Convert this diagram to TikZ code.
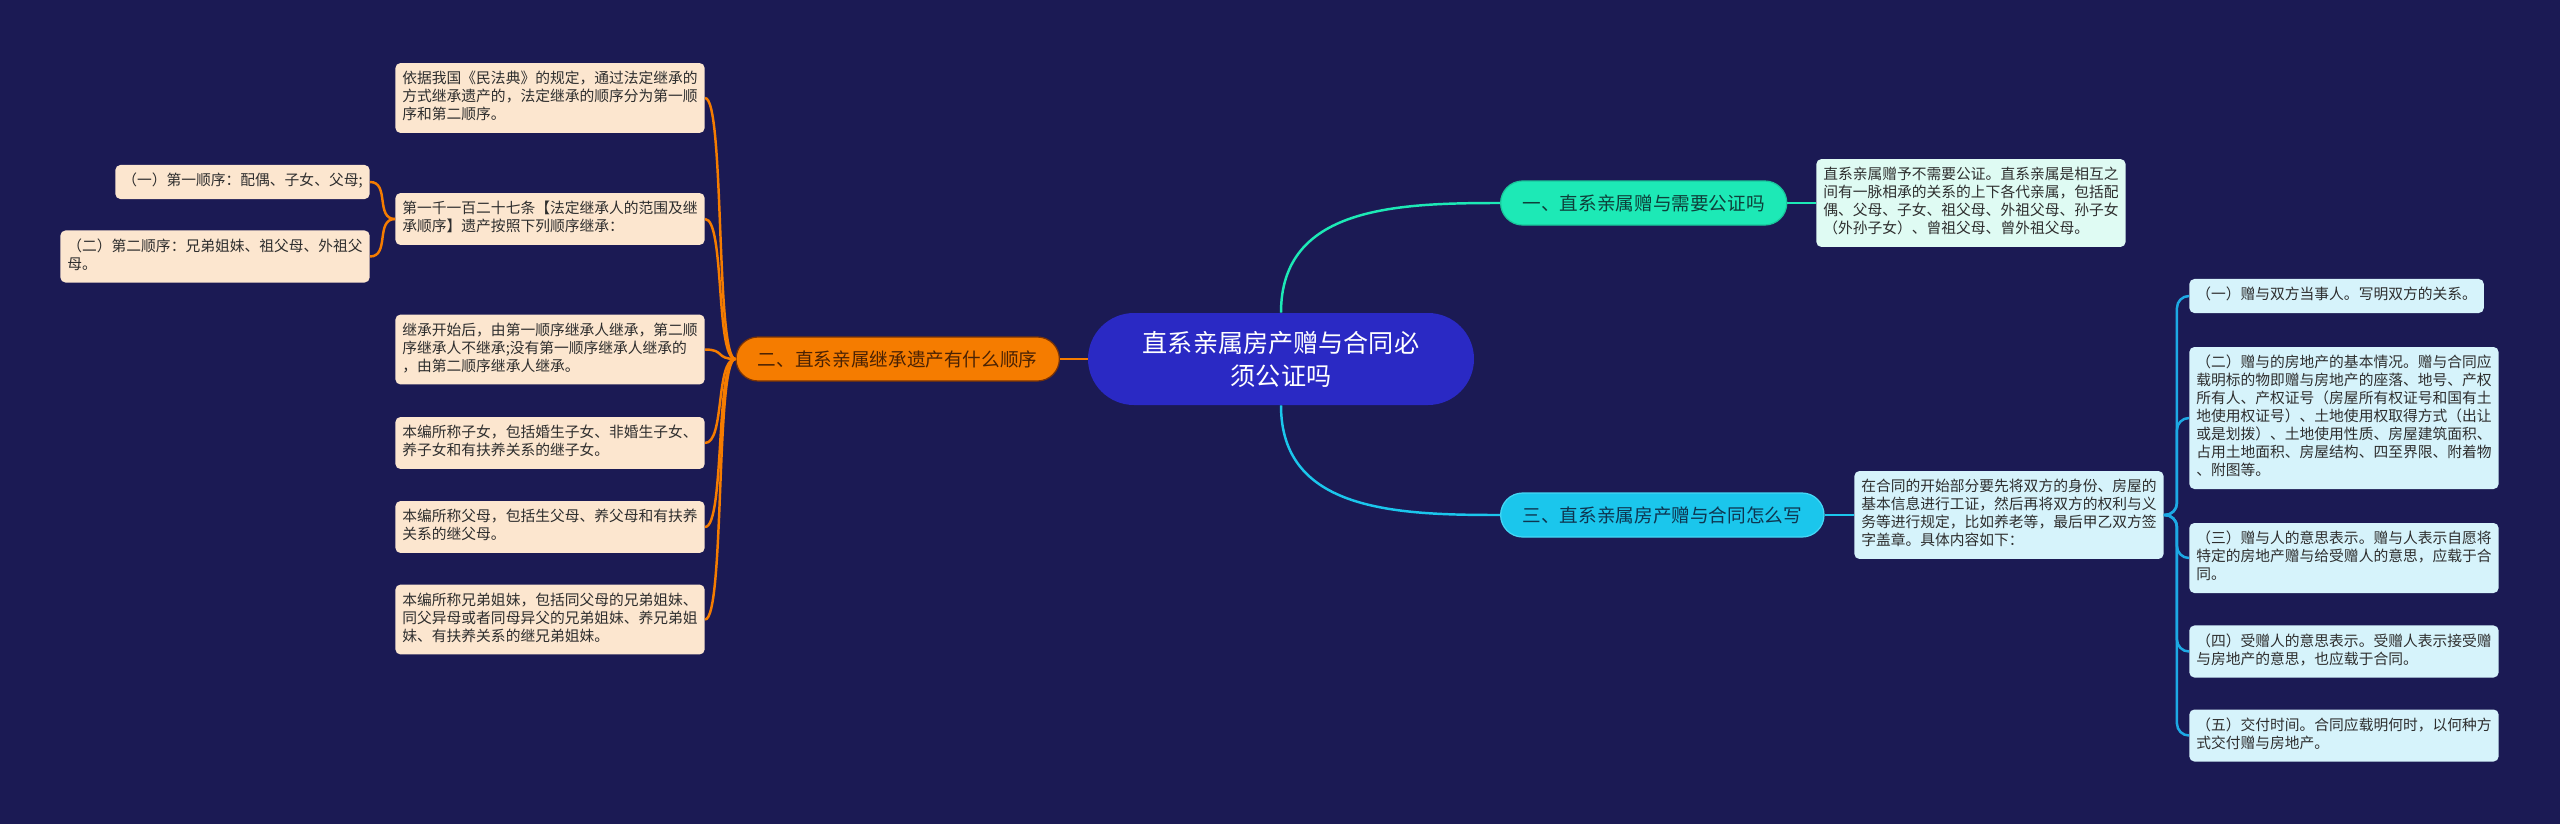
\documentclass[tikz,border=0pt]{standalone}
\usepackage{fontspec}
\usepackage{xcolor}
\usepackage{tikz}
\usetikzlibrary{positioning, calc}
\newfontfamily\cjk{Noto Sans CJK SC}
\definecolor{giftNight}{HTML}{1B1A54}
\definecolor{giftHub}{HTML}{2A29C4}
\definecolor{giftTeal}{HTML}{1DE9B6}
\definecolor{giftTealText}{HTML}{0E3F3A}
\definecolor{giftMint}{HTML}{DFFBF3}
\definecolor{giftCyan}{HTML}{1BC6EC}
\definecolor{giftCyanEdge}{HTML}{45D6F5}
\definecolor{giftCyanText}{HTML}{0E3550}
\definecolor{giftSky}{HTML}{D6F3FB}
\definecolor{giftBlueLine}{HTML}{1DA9E4}
\definecolor{giftOrange}{HTML}{F57C00}
\definecolor{giftOrangeEdge}{HTML}{7A3306}
\definecolor{giftOrangeText}{HTML}{4A2204}
\definecolor{giftPeach}{HTML}{FCE6CF}
\definecolor{giftInk}{HTML}{2E2E2E}
\tikzset{
  hubbox/.style={rectangle, rounded corners=0.92cm, fill=giftHub,
    text=white, align=center, minimum width=7.72cm, minimum height=1.84cm,
    font=\cjk\fontsize{14.3}{18.8}\selectfont},
  branchbox/.style={rectangle, rounded corners=0.44cm, minimum height=0.88cm,
    inner xsep=0.44cm, inner ysep=0pt, line width=0.7pt,
    font=\cjk\fontsize{10.6}{12}\selectfont},
  leafbox/.style={rectangle, rounded corners=0.1cm, align=left,
    inner xsep=0.14cm, inner ysep=4.55pt, text=giftInk,
    font=\cjk\fontsize{8.4}{10.24}\selectfont,
    execute at begin node=\strut, execute at end node=\strut},
  linkline/.style={line width=1.4pt},
}
\begin{document}
\begin{tikzpicture}
    \fill[giftNight] (0,0) rectangle (51.2,-16.48);
    \useasboundingbox (0,0) rectangle (51.2,-16.48);
    \node[hubbox] (hub) at (25.62,-7.18)
      {直系亲属房产赠与合同必\\须公证吗};
    \node[branchbox, fill=giftTeal, draw=giftTeal!85!black,
          text=giftTealText, anchor=west] (notarial) at (30.00,-4.06)
      {一、直系亲属赠与需要公证吗};
    \node[branchbox, fill=giftOrange, draw=giftOrangeEdge,
          text=giftOrangeText, anchor=east] (inherit) at (21.20,-7.18)
      {二、直系亲属继承遗产有什么顺序};
    \node[branchbox, fill=giftCyan, draw=giftCyanEdge,
          text=giftCyanText, anchor=west] (contract) at (30.00,-10.30)
      {三、直系亲属房产赠与合同怎么写};
    \node[leafbox, fill=giftMint, anchor=west] (kinship) at (36.32,-4.06)
      {直系亲属赠予不需要公证。直系亲属是相互之\\
       间有一脉相承的关系的上下各代亲属，包括配\\
       偶、父母、子女、祖父母、外祖父母、孙子女\\
       （外孙子女）、曾祖父母、曾外祖父母。};
    \node[leafbox, fill=giftSky, anchor=west] (intro) at (37.08,-10.30)
      {在合同的开始部分要先将双方的身份、房屋的\\
       基本信息进行工证，然后再将双方的权利与义\\
       务等进行规定，比如养老等，最后甲乙双方签\\
       字盖章。具体内容如下：};
    \node[leafbox, fill=giftSky, anchor=west] (parties) at (43.78,-5.92)
      {（一）赠与双方当事人。写明双方的关系。};
    \node[leafbox, fill=giftSky, anchor=west] (estate) at (43.78,-8.36)
      {（二）赠与的房地产的基本情况。赠与合同应\\
       载明标的物即赠与房地产的座落、地号、产权\\
       所有人、产权证号（房屋所有权证号和国有土\\
       地使用权证号）、土地使用权取得方式（出让\\
       或是划拨）、土地使用性质、房屋建筑面积、\\
       占用土地面积、房屋结构、四至界限、附着物\\
       、附图等。};
    \node[leafbox, fill=giftSky, anchor=west] (donorwill) at (43.78,-11.16)
      {（三）赠与人的意思表示。赠与人表示自愿将\\
       特定的房地产赠与给受赠人的意思，应载于合\\
       同。};
    \node[leafbox, fill=giftSky, anchor=west] (doneewill) at (43.78,-13.03)
      {（四）受赠人的意思表示。受赠人表示接受赠\\
       与房地产的意思，也应载于合同。};
    \node[leafbox, fill=giftSky, anchor=west] (handover) at (43.78,-14.71)
      {（五）交付时间。合同应载明何时，以何种方\\
       式交付赠与房地产。};
    \node[leafbox, fill=giftPeach, anchor=east] (civilcode) at (14.10,-1.96)
      {依据我国《民法典》的规定，通过法定继承的\\
       方式继承遗产的，法定继承的顺序分为第一顺\\
       序和第二顺序。};
    \node[leafbox, fill=giftPeach, anchor=east] (article) at (14.10,-4.38)
      {第一千一百二十七条【法定继承人的范围及继\\
       承顺序】遗产按照下列顺序继承：};
    \node[leafbox, fill=giftPeach, anchor=east] (firstorder) at (7.40,-3.64)
      {（一）第一顺序：配偶、子女、父母;};
    \node[leafbox, fill=giftPeach, anchor=east] (secondorder) at (7.40,-5.13)
      {（二）第二顺序：兄弟姐妹、祖父母、外祖父\\
       母。};
    \node[leafbox, fill=giftPeach, anchor=east] (sequence) at (14.10,-6.99)
      {继承开始后，由第一顺序继承人继承，第二顺\\
       序继承人不继承;没有第一顺序继承人继承的\\
       ，由第二顺序继承人继承。};
    \node[leafbox, fill=giftPeach, anchor=east] (children) at (14.10,-8.86)
      {本编所称子女，包括婚生子女、非婚生子女、\\
       养子女和有扶养关系的继子女。};
    \node[leafbox, fill=giftPeach, anchor=east] (parents) at (14.10,-10.54)
      {本编所称父母，包括生父母、养父母和有扶养\\
       关系的继父母。};
    \node[leafbox, fill=giftPeach, anchor=east] (siblings) at (14.10,-12.39)
      {本编所称兄弟姐妹，包括同父母的兄弟姐妹、\\
       同父异母或者同母异父的兄弟姐妹、养兄弟姐\\
       妹、有扶养关系的继兄弟姐妹。};
    \draw[linkline, giftTeal] (hub.north) to[out=90, in=180, looseness=1.1] (notarial.west);
    \draw[linkline, giftCyan] (hub.south) to[out=-90, in=180, looseness=1.1] (contract.west);
    \draw[linkline, giftOrange] (hub.west) -- (inherit.east);
    \draw[linkline, giftTeal] (notarial.east) -- (kinship.west);
    \draw[linkline, giftCyan] (contract.east) -- (intro.west);
    \draw[linkline, giftBlueLine, rounded corners=0.24cm] (intro.east) -- ++(0.26,0) |- (parties.west);
    \draw[linkline, giftBlueLine, rounded corners=0.24cm] (intro.east) -- ++(0.26,0) |- (estate.west);
    \draw[linkline, giftBlueLine, rounded corners=0.24cm] (intro.east) -- ++(0.26,0) |- (donorwill.west);
    \draw[linkline, giftBlueLine, rounded corners=0.24cm] (intro.east) -- ++(0.26,0) |- (doneewill.west);
    \draw[linkline, giftBlueLine, rounded corners=0.24cm] (intro.east) -- ++(0.26,0) |- (handover.west);
    \draw[linkline, giftOrange] (inherit.west) .. controls +(-0.4,0) and +(0.4,0) .. (civilcode.east);
    \draw[linkline, giftOrange] (inherit.west) .. controls +(-0.4,0) and +(0.4,0) .. (article.east);
    \draw[linkline, giftOrange] (inherit.west) .. controls +(-0.4,0) and +(0.4,0) .. (sequence.east);
    \draw[linkline, giftOrange] (inherit.west) .. controls +(-0.4,0) and +(0.4,0) .. (children.east);
    \draw[linkline, giftOrange] (inherit.west) .. controls +(-0.4,0) and +(0.4,0) .. (parents.east);
    \draw[linkline, giftOrange] (inherit.west) .. controls +(-0.4,0) and +(0.4,0) .. (siblings.east);
    \draw[linkline, giftOrange] (article.west) .. controls +(-0.4,0) and +(0.4,0) .. (firstorder.east);
    \draw[linkline, giftOrange] (article.west) .. controls +(-0.4,0) and +(0.4,0) .. (secondorder.east);
\end{tikzpicture}
\end{document}
